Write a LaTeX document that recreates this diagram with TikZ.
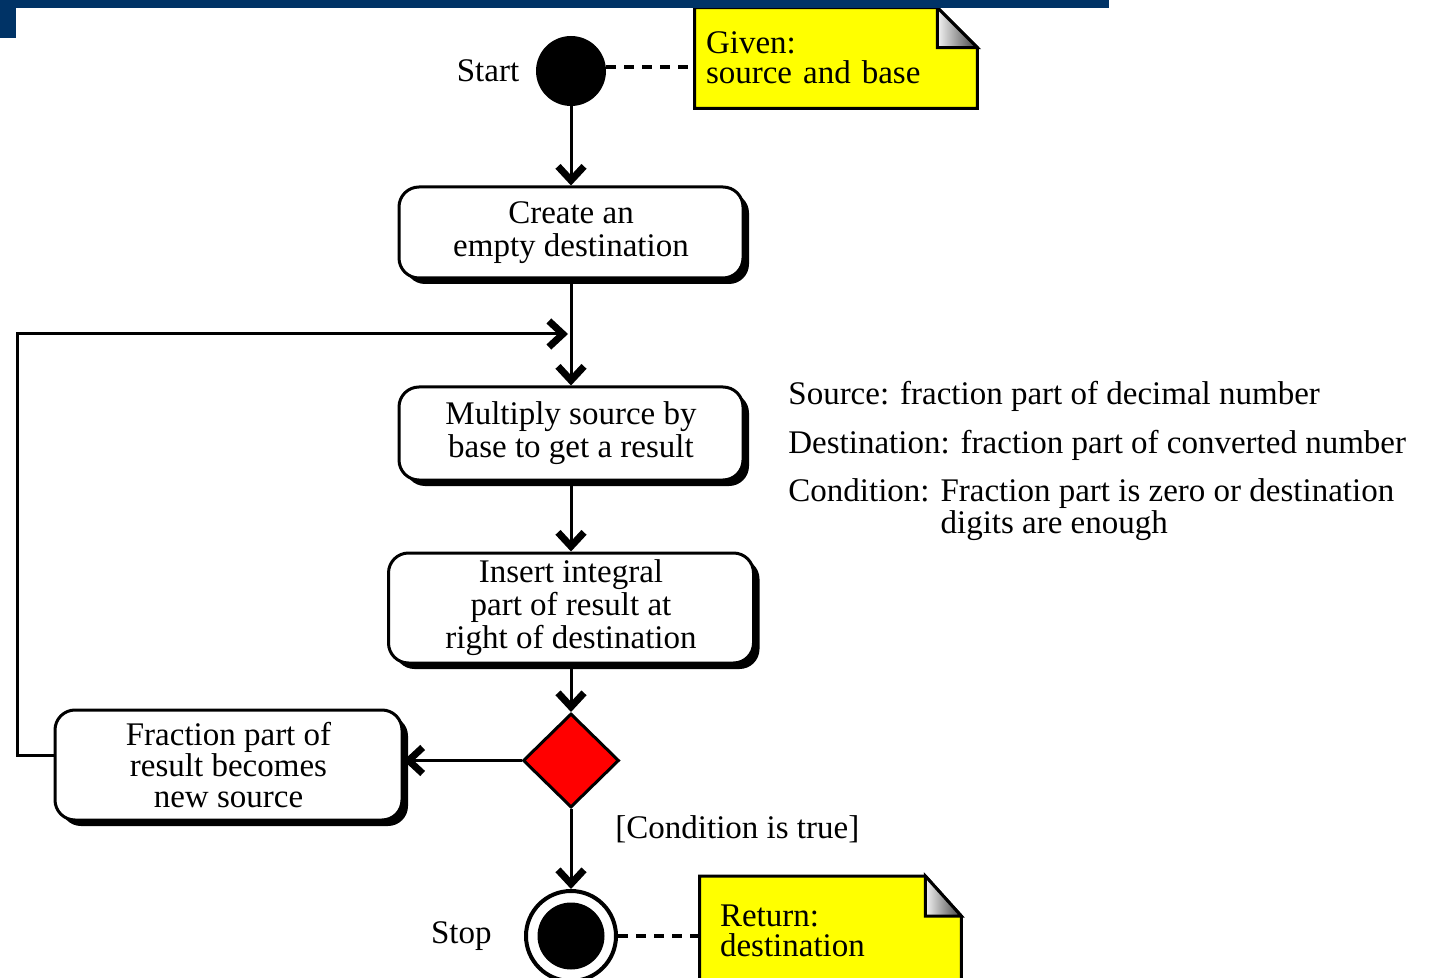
\documentclass[tikz,border=0pt]{standalone}
\usepackage{fontspec}
\setmainfont{Liberation Serif}
\usepackage{xcolor}
\usepackage{tikz}
\usetikzlibrary{shapes.geometric, arrows.meta, positioning, calc, shadows, backgrounds}
\definecolor{headerblue}{RGB}{0, 51, 102}
\definecolor{noteyellow}{RGB}{255, 255, 0}
\definecolor{decisionred}{RGB}{255, 0, 0}
\newcommand{\flowfont}{\fontsize{16.5pt}{16.5pt}\selectfont}

\tikzset{
    actbox/.style={draw, line width=1.5pt, rounded corners=10pt, fill=white, align=center,
        inner sep=2pt, drop shadow={shadow xshift=3pt, shadow yshift=-3pt, fill=black, opacity=1}},
    flow/.style={line width=1.5pt, -{Straight Barb[length=7pt, width=13pt, line width=3.5pt]}},
    notelink/.style={line width=2pt, dash pattern=on 5pt off 4pt},
    notebox/.style={inner ysep=0pt, align=left, font=\fontsize{16.5pt}{15pt}\selectfont},
    fold/.style={line width=1.5pt, left color=gray!10, right color=black!75},
    lbl/.style={inner sep=0pt}
}

\begin{document}
\begin{tikzpicture}[x=0.5pt, y=-0.5pt, font=\flowfont]
    \useasboundingbox (0,0) rectangle (1434,978);
    \fill[headerblue] (0,0) rectangle (1109,8);
    \fill[headerblue] (0,0) rectangle (16,38);

    % activity column
    \node[circle, fill=black, minimum size=35pt, inner sep=0pt] (start) at (571,71) {};
    \node[lbl, left=8pt of start] (startlbl) {Start};
    \node[actbox, minimum width=172pt, minimum height=45.5pt] (create) at (571,232.5) {Create an\\empty destination};
    \node[actbox, minimum width=172pt, minimum height=46.5pt] (multiply) at (571,433.5) {Multiply source by\\base to get a result};
    \node[actbox, minimum width=182.5pt, minimum height=55pt] (insert) at (571,608) {Insert integral\\part of result at\\right of destination};
    \node[diamond, draw, line width=1.5pt, fill=decisionred, minimum width=48pt, minimum height=47pt, inner sep=0pt] (decide) at (571,760.5) {};
    \node[actbox, minimum width=173.5pt, minimum height=55pt, font=\fontsize{16.5pt}{15.5pt}\selectfont] (fraction) at (228.5,765) {Fraction part of\\result becomes\\new source};
    \node[circle, draw, line width=2pt, fill=white, minimum size=45pt, inner sep=0pt] (stop) at (571,936) {};
    \node[circle, fill=black, minimum size=33.5pt, inner sep=0pt] (stopdot) at (stop) {};
    \node[lbl, left=16pt of stop] (stoplbl) {Stop};
    \node[lbl, anchor=west] (condlbl) at (615,829) {[Condition is true]};

    % notes
    \node[notebox, minimum width=141pt, minimum height=50pt, inner xsep=5.5pt, text width=130pt] (given) at (836,58) {Given:\\source and base};
    \node[notebox, minimum width=130.5pt, minimum height=54.5pt, inner xsep=10pt, text width=110.5pt] (retval) at (830.5,931) {Return:\\destination};
    \begin{scope}[on background layer]
        \draw[line width=1.5pt, fill=noteyellow] (given.north west) -- ([xshift=-20pt]given.north east)
            -- ([yshift=-20pt]given.north east) -- (given.south east) -- (given.south west) -- cycle;
        \draw[fold] ([xshift=-20pt]given.north east) -- ([xshift=-20pt, yshift=-20pt]given.north east)
            -- ([yshift=-20pt]given.north east) -- cycle;
        \draw[line width=1.5pt, fill=noteyellow] (retval.north west) -- ([xshift=-18pt]retval.north east)
            -- ([yshift=-20pt]retval.north east) -- (retval.south east) -- (retval.south west) -- cycle;
        \draw[fold] ([xshift=-18pt]retval.north east) -- ([xshift=-18pt, yshift=-20pt]retval.north east)
            -- ([yshift=-20pt]retval.north east) -- cycle;
    \end{scope}

    % legend
    \node[lbl, anchor=base west] (srclbl) at (788,405) {Source: fraction part of decimal number};
    \node[lbl, anchor=base west] (dstlbl) at (788,453) {Destination: fraction part of converted number};
    \node[lbl, anchor=base west, font=\fontsize{16.5pt}{15.5pt}\selectfont] (cndlbl) at (788,501)
        {\begin{tabular}[t]{@{}l@{ }l@{}}Condition: & Fraction part is zero or destination\\ & digits are enough\end{tabular}};

    % connectors
    \coordinate (merge) at (571,334);
    \coordinate (loopcorner) at (17,334);
    \draw[flow] (start) -- (create);
    \draw[flow] (create) -- (multiply);
    \draw[flow] (multiply) -- (insert);
    \draw[flow] (insert) -- (decide);
    \draw[flow] (decide.west) -- (decide.west -| fraction.east);
    \draw[flow, shorten >=1.5pt] ([yshift=5pt]fraction.west) -| (loopcorner) -- (merge);
    \draw[flow] (decide) -- (stop);
    \draw[notelink] (start.east) ++(0,-4) -- (given.west |- 0,67);
    \draw[notelink] (stop.east) -- (stop.east -| retval.west);
\end{tikzpicture}
\end{document}
